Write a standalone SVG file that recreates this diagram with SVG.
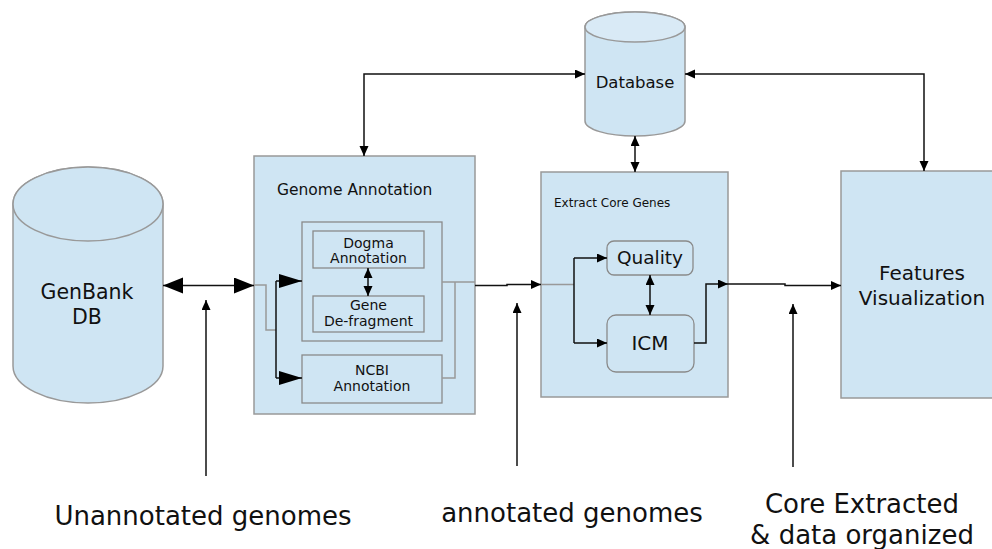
<svg xmlns="http://www.w3.org/2000/svg" width="992" height="549" viewBox="0 0 992 549">
<style>
.box{fill:#cfe5f3;stroke:#999;stroke-width:1.5}
.ibox{fill:#cfe5f3;stroke:#8a8a8a;stroke-width:1.3}
.top{fill:#d9eaf6;stroke:#999;stroke-width:1.5}
.ln{fill:none;stroke:#111;stroke-width:1.5}
.gl{fill:none;stroke:#999;stroke-width:1.5}
text{font-family:"DejaVu Sans",Verdana,sans-serif;fill:#111}
.c{text-anchor:middle}
</style>
<defs>
<marker id="s" markerUnits="userSpaceOnUse" markerWidth="12" markerHeight="10" refX="10" refY="4.5" orient="auto-start-reverse"><path d="M0,0 L10,4.5 L0,9 z" fill="#000"/></marker>
<marker id="b" markerUnits="userSpaceOnUse" markerWidth="22" markerHeight="18" refX="20" refY="8" orient="auto-start-reverse"><path d="M0,0 L20,8 L0,16 z" fill="#000"/></marker>
<marker id="m" markerUnits="userSpaceOnUse" markerWidth="24" markerHeight="16" refX="23" refY="7" orient="auto-start-reverse"><path d="M0,0 L23,7 L0,14 z" fill="#000"/></marker>
</defs>
<g id="genbank">
<path class="box" d="M13,204 L13,366 A75,37 0 0 0 163,366 L163,204 A75,37 0 0 0 13,204 Z"/>
<ellipse class="box" cx="88" cy="204" rx="75" ry="37"/>
<text class="c" x="87" y="298.5" font-size="20.5">GenBank</text>
<text class="c" x="87" y="324" font-size="20.5">DB</text>
</g>
<g id="database">
<path class="box" d="M585,27 L585,121 A50,15 0 0 0 685,121 L685,27 A50,15 0 0 0 585,27 Z"/>
<ellipse class="top" cx="635" cy="27" rx="50" ry="15"/>
<text class="c" x="635" y="88" font-size="16.5">Database</text>
</g>
<g id="genome-annotation">
<rect class="box" x="254" y="156" width="221" height="258"/>
<text x="277" y="195" font-size="15.5">Genome Annotation</text>
<rect class="ibox" x="302" y="222" width="140" height="119"/>
</g>
<g id="dogma">
<rect class="ibox" x="313" y="231" width="111" height="37"/>
<text class="c" x="368.5" y="247.5" font-size="14">Dogma</text>
<text class="c" x="368.5" y="262.5" font-size="14">Annotation</text>
</g>
<g id="gene">
<rect class="ibox" x="313" y="296" width="111" height="36"/>
<text class="c" x="368.5" y="310" font-size="14">Gene</text>
<text class="c" x="368.5" y="326" font-size="14">De-fragment</text>
</g>
<g id="ncbi">
<rect class="ibox" x="302" y="355" width="140" height="48"/>
<text class="c" x="372" y="375" font-size="14">NCBI</text>
<text class="c" x="372" y="391" font-size="14">Annotation</text>
</g>
<g id="extract">
<rect class="box" x="541" y="172" width="187" height="225"/>
<text x="554" y="207" font-size="12">Extract Core Genes</text>
</g>
<g id="quality">
<rect class="ibox" x="607" y="241" width="86" height="34" rx="7"/>
<text class="c" x="650" y="264" font-size="18.5">Quality</text>
</g>
<g id="icm">
<rect class="ibox" x="607" y="315" width="87" height="57" rx="9"/>
<text class="c" x="650" y="350" font-size="20">ICM</text>
</g>
<g id="features">
<rect class="box" x="841" y="171" width="200" height="227"/>
<text class="c" x="922" y="279.5" font-size="20">Features</text>
<text class="c" x="922" y="305" font-size="20">Visualization</text>
</g>
<g id="labels">
<text class="c" x="203" y="525" font-size="26">Unannotated genomes</text>
<text class="c" x="572" y="521.5" font-size="26">annotated genomes</text>
<text class="c" x="862" y="513" font-size="26">Core Extracted</text>
<text class="c" x="862" y="544" font-size="26">&amp; data organized</text>
</g>
<g id="connectors">
<path class="ln" d="M163,285.5 L254,285.5" marker-start="url(#b)" marker-end="url(#b)"/>
<path class="ln" d="M206,476 L206,300" marker-end="url(#s)"/>
<path class="gl" d="M254,285 L266,285 L266,330 L276,330"/>
<path class="ln" d="M276,281 L276,378"/>
<path class="ln" d="M276,281 L302,281" marker-end="url(#m)"/>
<path class="ln" d="M276,378 L302,378" marker-end="url(#m)"/>
<path class="ln" d="M368,268 L368,296" marker-start="url(#s)" marker-end="url(#s)"/>
<path class="gl" d="M442,282 L475,282 M455,282 L455,378 L442,378"/>
<path class="ln" d="M475,285.5 L507,285.5 L507,284.5 L541,284.5" marker-end="url(#s)"/>
<path class="ln" d="M517,466 L517,303" marker-end="url(#s)"/>
<path class="gl" d="M541,284.5 L574,284.5"/>
<path class="ln" d="M574,258 L574,343"/>
<path class="ln" d="M574,258 L607,258" marker-end="url(#s)"/>
<path class="ln" d="M574,343 L607,343" marker-end="url(#s)"/>
<path class="ln" d="M650,275 L650,315" marker-start="url(#s)" marker-end="url(#s)"/>
<path class="ln" d="M694,343 L706,343 L706,284 L728,284" marker-end="url(#s)"/>
<path class="ln" d="M728,284 L785,284 L785,285.5 L841,285.5" marker-end="url(#s)"/>
<path class="ln" d="M793,467 L793,304" marker-end="url(#s)"/>
<path class="ln" d="M635,136 L635,172" marker-start="url(#s)" marker-end="url(#s)"/>
<path class="ln" d="M364,156 L364,74 L585,74" marker-start="url(#s)" marker-end="url(#s)"/>
<path class="ln" d="M685,74 L924,74 L924,171" marker-start="url(#s)" marker-end="url(#s)"/>
</g>
</svg>
